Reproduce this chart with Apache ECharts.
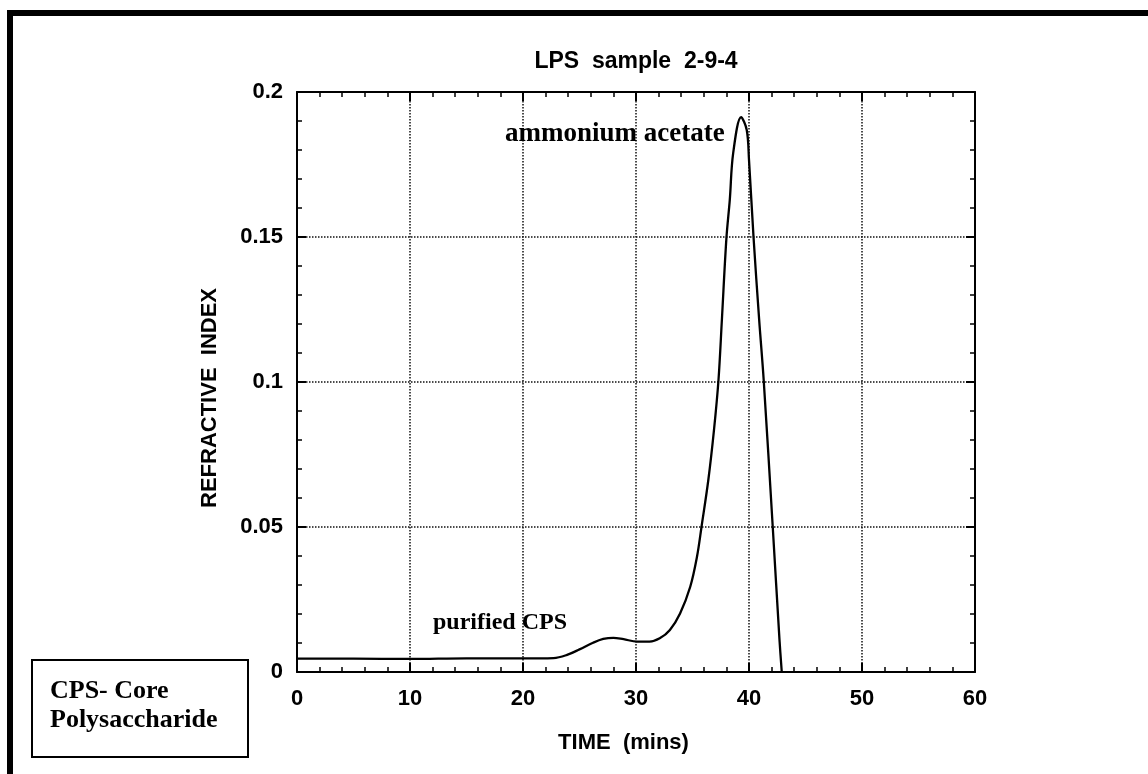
<!DOCTYPE html>
<html>
<head>
<meta charset="utf-8">
<title>LPS sample 2-9-4</title>
<script src="https://cdn.jsdelivr.net/npm/echarts@6/dist/echarts.min.js"></script>
<style>
  html, body { margin: 0; padding: 0; background: #fff; }
  #chart { width: 1148px; height: 774px; }
</style>
</head>
<body>
<div id="chart"></div>
<script>
// time (mins) and refractive index
var timeMins = [0, 5, 10, 15, 20, 22.7, 23.9, 25.0, 26.2, 27.1, 28.0, 28.9, 30.1, 31.2, 32.1, 33.0, 33.9, 34.8, 35.4, 35.8, 36.4, 36.9, 37.3, 37.6, 38.0, 38.3, 38.6, 39.3, 39.8, 40.0, 40.4, 40.9, 41.3, 42.1, 42.7, 42.9];
var refIndex = [0.0046, 0.0046, 0.0045, 0.0047, 0.0047, 0.0048, 0.0059, 0.0078, 0.0101, 0.0114, 0.0118, 0.0113, 0.0105, 0.0105, 0.0116, 0.0145, 0.0202, 0.0294, 0.0398, 0.0501, 0.0662, 0.0834, 0.1007, 0.1214, 0.1495, 0.1628, 0.1789, 0.1913, 0.1869, 0.1766, 0.150, 0.1214, 0.1007, 0.0501, 0.011, 0];

var xTicks = [0, 10, 20, 30, 40, 50, 60];
var yTicks = [0, 0.05, 0.1, 0.15, 0.2];

var titleText = 'LPS  sample  2-9-4';
var xName = 'TIME  (mins)';
var yName = 'REFRACTIVE  INDEX';

function drawChart(){
	var myChart = echarts.init(document.getElementById('chart'));
	var sans = '"Liberation Sans", Arial, Helvetica, sans-serif';
	var serif = '"Liberation Serif", "Times New Roman", serif';

	var points = [];
	for (var i = 0; i < timeMins.length; i++) {
		points.push([timeMins[i], refIndex[i]]);
	}

	var xStep = xTicks[1] - xTicks[0];
	var yStep = yTicks[1] - yTicks[0];

	// shared frame settings for the 4 sides
	var frameLine = { show: true, onZero: false, lineStyle: { color: '#000', width: 2 } };
	var tickIn = { show: true, inside: true, length: 9, lineStyle: { color: '#000', width: 2 } };
	var minorIn = { show: true, splitNumber: 5, length: 5, lineStyle: { color: '#000', width: 1.5 } };
	var gridDots = { show: true, lineStyle: { color: '#111', type: 'dotted', width: 1.5 } };

	var option = {
		backgroundColor: '#fff',
		animation: false,
		title: {
			text: titleText,
			left: 631,
			top: 45,
			textAlign: 'center',
			textStyle: { fontFamily: sans, fontWeight: 'bold', fontSize: 23, color: '#000' }
		},
		grid: { left: 297, top: 92, right: 173, bottom: 102, containLabel: false },
		xAxis: [{
			type: 'value',
			min: xTicks[0],
			max: xTicks[xTicks.length - 1],
			interval: xStep,
			position: 'bottom',
			name: xName,
			nameLocation: 'middle',
			nameGap: 60,
			nameTextStyle: { fontFamily: sans, fontWeight: 'bold', fontSize: 22, color: '#000', padding: [0, 25, 0, 0] },
			axisLine: frameLine,
			axisTick: tickIn,
			minorTick: minorIn,
			axisLabel: { margin: 16, fontFamily: sans, fontWeight: 'bold', fontSize: 22, color: '#000' },
			splitLine: gridDots
		}, {
			type: 'value',
			min: xTicks[0],
			max: xTicks[xTicks.length - 1],
			interval: xStep,
			position: 'top',
			axisLine: frameLine,
			axisTick: tickIn,
			minorTick: minorIn,
			axisLabel: { show: false },
			splitLine: { show: false }
		}],
		yAxis: [{
			type: 'value',
			min: yTicks[0],
			max: yTicks[yTicks.length - 1],
			interval: yStep,
			position: 'left',
			name: yName,
			nameLocation: 'middle',
			nameGap: 76,
			nameTextStyle: { fontFamily: sans, fontWeight: 'bold', fontSize: 22, color: '#000', padding: [0, 32, 0, 0] },
			axisLine: frameLine,
			axisTick: tickIn,
			minorTick: minorIn,
			axisLabel: { margin: 14, fontFamily: sans, fontWeight: 'bold', fontSize: 22, color: '#000' },
			splitLine: gridDots
		}, {
			type: 'value',
			min: yTicks[0],
			max: yTicks[yTicks.length - 1],
			interval: yStep,
			position: 'right',
			axisLine: frameLine,
			axisTick: tickIn,
			minorTick: minorIn,
			axisLabel: { show: false },
			splitLine: { show: false }
		}],
		series: [{
			type: 'line',
			xAxisIndex: 0,
			yAxisIndex: 0,
			smooth: 0.35,
			showSymbol: false,
			symbol: 'none',
			lineStyle: { color: '#000', width: 2.3 },
			data: points,
			z: 5
		}],
		graphic: [
			// page border: left and top bars
			{ type: 'rect', left: 7, top: 10, shape: { width: 6, height: 764 }, style: { fill: '#000' } },
			{ type: 'rect', left: 7, top: 10, shape: { width: 1141, height: 6 }, style: { fill: '#000' } },
			// peak labels
			{ type: 'text', left: 505, top: 121, z: 10,
				style: { text: 'ammonium acetate', fill: '#000', font: 'bold 27px ' + serif } },
			{ type: 'text', left: 433, top: 611, z: 10,
				style: { text: 'purified CPS', fill: '#000', font: 'bold 24px ' + serif } },
			// legend box
			{ type: 'rect', left: 31, top: 659, z: 10,
				shape: { width: 216, height: 97 }, style: { fill: '#fff', stroke: '#000', lineWidth: 2 } },
			{ type: 'text', left: 50, top: 678, z: 11,
				style: { text: 'CPS- Core', fill: '#000', font: 'bold 26px ' + serif } },
			{ type: 'text', left: 50, top: 707, z: 11,
				style: { text: 'Polysaccharide', fill: '#000', font: 'bold 26px ' + serif } }
		]
	};

	myChart.setOption(option);
	window.addEventListener("resize", function(){
		myChart.resize();
	});
}
drawChart();
</script>
</body>
</html>
